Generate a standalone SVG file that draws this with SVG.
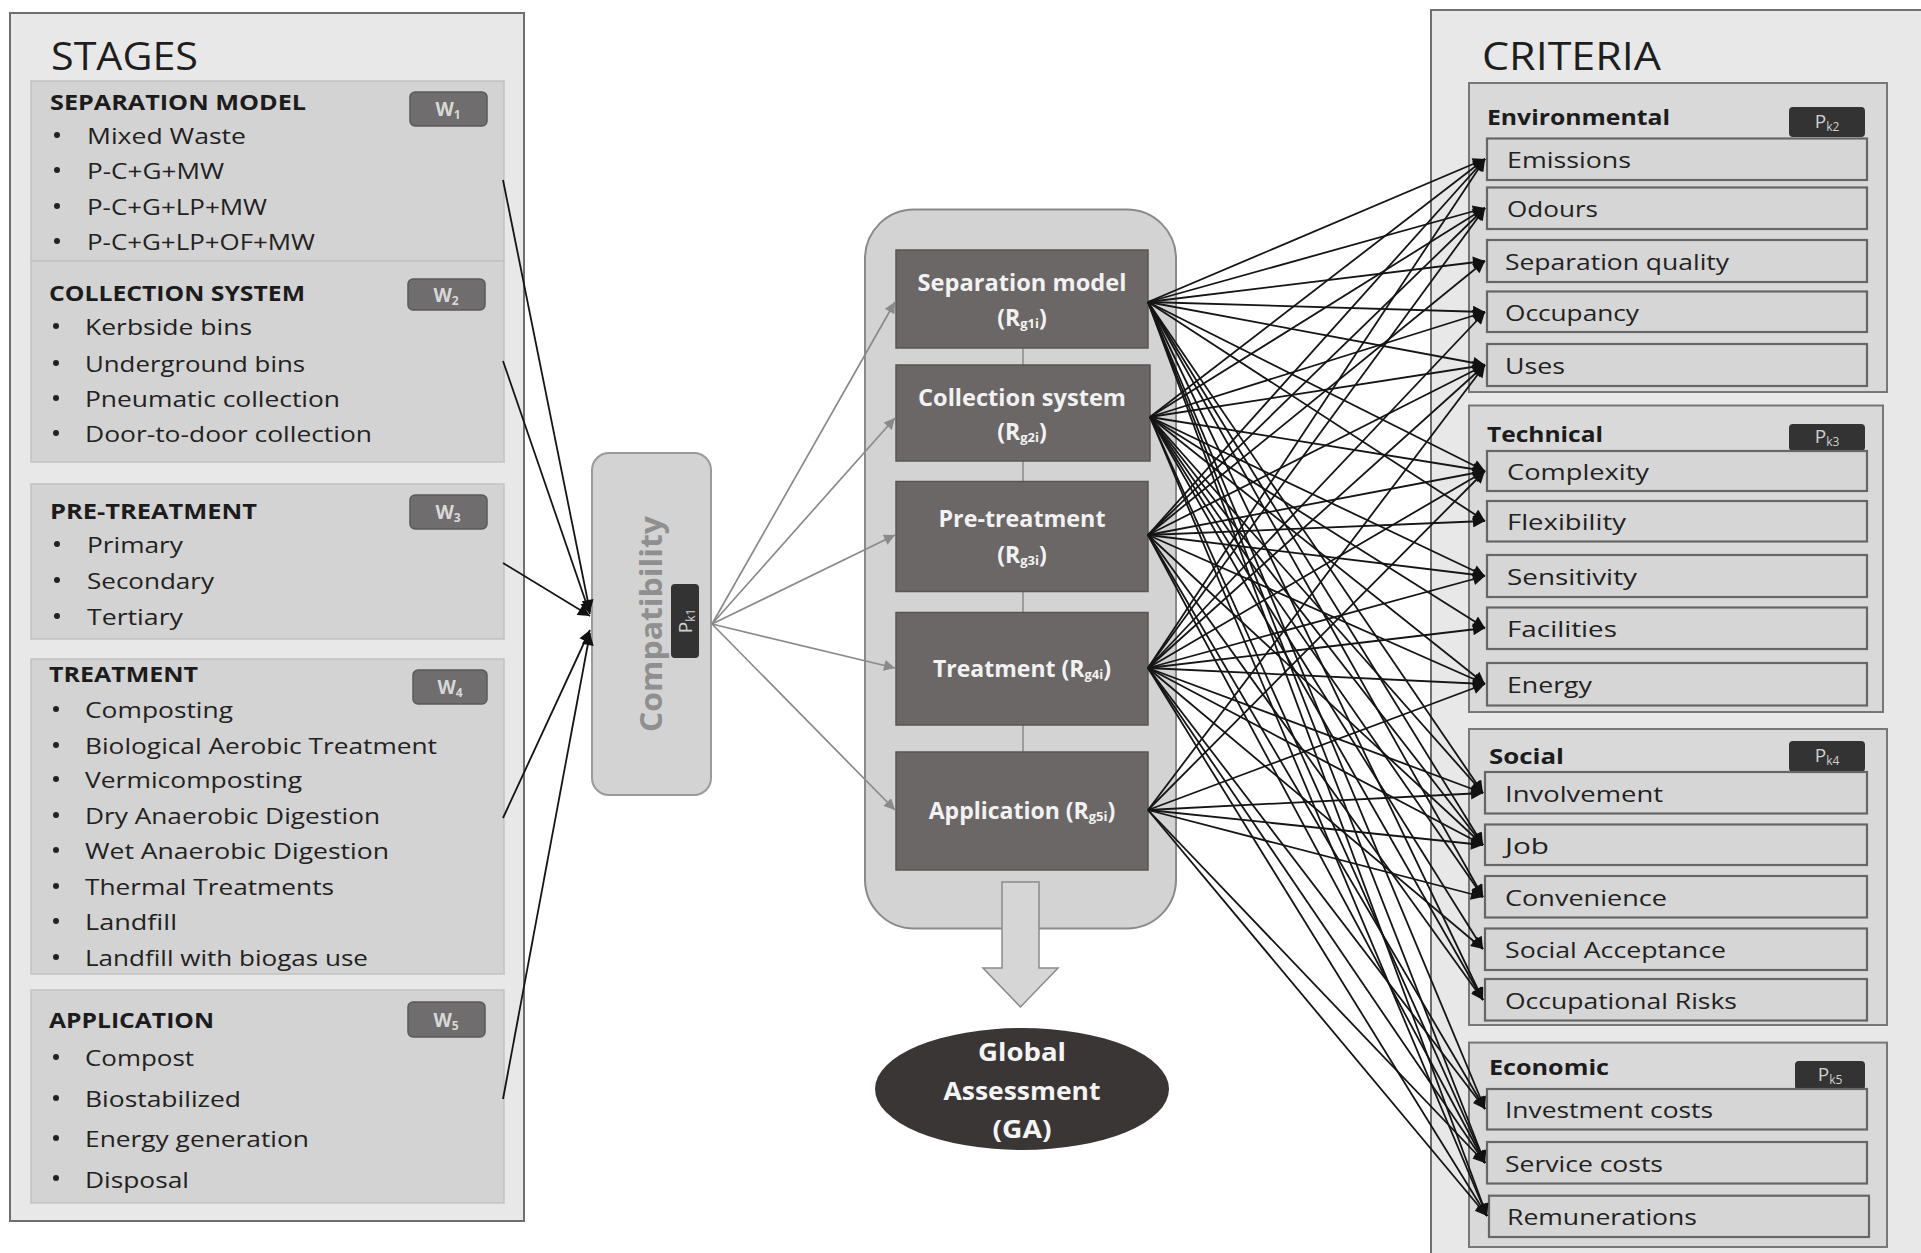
<svg xmlns="http://www.w3.org/2000/svg" width="1921" height="1253" viewBox="0 0 1921 1253">
<style>
text{font-family:"Open Sans","Liberation Sans",sans-serif}
.panel{fill:#e8e8e8;stroke:#6f6f6f;stroke-width:2}
.sub{fill:#d3d3d3;stroke:#c2c2c2;stroke-width:1.5}
.title{font-size:38px;fill:#1e1e1e}
.hdr{font-size:22px;font-weight:bold;fill:#1c1c1c}
.item{font-size:22px;fill:#222}
.bul{fill:#222}
.wb{fill:#6f6d6d;stroke:#5a5a5a;stroke-width:1.5}
.wt{font-size:19px;fill:#d8d8d8;font-weight:bold}
.grp{fill:#d9d9d9;stroke:#777;stroke-width:2}
.crit{fill:#d6d6d6;stroke:#666;stroke-width:2.2}
.pb{fill:#333}
.pt{font-size:19px;fill:#d0d0d0}
.dark{fill:#6b6767;stroke:#5a5656;stroke-width:1.5}
.mt{font-size:23px;font-weight:bold;fill:#f2f2f2}
.gt{font-size:25px;font-weight:bold;fill:#f4f4f4}
.blk{stroke:#151515;stroke-width:1.8;fill:none}
.gry{stroke:#8a8a8a;stroke-width:1.7;fill:none}
</style>
<defs>
<marker id="ah" viewBox="0 0 10 10" refX="10" refY="5" markerWidth="15" markerHeight="12" markerUnits="userSpaceOnUse" orient="auto"><path d="M0,0 L10,5 L0,10 z" fill="#111"/></marker>
<marker id="ag" viewBox="0 0 10 10" refX="10" refY="5" markerWidth="14" markerHeight="11" markerUnits="userSpaceOnUse" orient="auto"><path d="M0,0 L10,5 L0,10 z" fill="#8a8a8a"/></marker>
</defs>
<rect width="1921" height="1253" fill="#ffffff"/>

<!-- LEFT PANEL -->
<g id="stages">
<rect class="panel" x="10" y="13" width="514" height="1208"/>
<text class="title" x="51" y="55" dominant-baseline="central" textLength="147" lengthAdjust="spacingAndGlyphs">STAGES</text>
</g>

<g id="stage-separation">
<rect class="sub" x="31" y="81" width="473" height="180"/>
<text class="hdr" x="50" y="100.5" dominant-baseline="central" textLength="256" lengthAdjust="spacingAndGlyphs">SEPARATION MODEL</text>
<rect class="wb" x="410" y="92" width="77" height="34" rx="5"/>
<text class="wt" x="448" y="109" dominant-baseline="central" text-anchor="middle">W<tspan font-size="12" dy="5">1</tspan></text>
<circle class="bul" cx="57" cy="135" r="3"/><text class="item" x="87" y="134.8" dominant-baseline="central" textLength="159" lengthAdjust="spacingAndGlyphs">Mixed Waste</text>
<circle class="bul" cx="57" cy="170" r="3"/><text class="item" x="87" y="170.3" dominant-baseline="central" textLength="137" lengthAdjust="spacingAndGlyphs">P-C+G+MW</text>
<circle class="bul" cx="57" cy="206" r="3"/><text class="item" x="87" y="205.8" dominant-baseline="central" textLength="180" lengthAdjust="spacingAndGlyphs">P-C+G+LP+MW</text>
<circle class="bul" cx="57" cy="241" r="3"/><text class="item" x="87" y="241.3" dominant-baseline="central" textLength="228" lengthAdjust="spacingAndGlyphs">P-C+G+LP+OF+MW</text>
</g>

<g id="stage-collection">
<rect class="sub" x="31" y="261" width="473" height="201"/>
<text class="hdr" x="49" y="291.6" dominant-baseline="central" textLength="256" lengthAdjust="spacingAndGlyphs">COLLECTION SYSTEM</text>
<rect class="wb" x="408" y="279" width="77" height="31" rx="5"/>
<text class="wt" x="446" y="294.5" dominant-baseline="central" text-anchor="middle">W<tspan font-size="12" dy="5">2</tspan></text>
<circle class="bul" cx="56" cy="326" r="3"/><text class="item" x="85" y="326" dominant-baseline="central" textLength="167" lengthAdjust="spacingAndGlyphs">Kerbside bins</text>
<circle class="bul" cx="56" cy="363" r="3"/><text class="item" x="85" y="362.6" dominant-baseline="central" textLength="220" lengthAdjust="spacingAndGlyphs">Underground bins</text>
<circle class="bul" cx="56" cy="398" r="3"/><text class="item" x="85" y="398" dominant-baseline="central" textLength="255" lengthAdjust="spacingAndGlyphs">Pneumatic collection</text>
<circle class="bul" cx="56" cy="433" r="3"/><text class="item" x="85" y="432.5" dominant-baseline="central" textLength="287" lengthAdjust="spacingAndGlyphs">Door-to-door collection</text>
</g>

<g id="stage-pretreatment">
<rect class="sub" x="31" y="484" width="473" height="155"/>
<text class="hdr" x="50" y="509.6" dominant-baseline="central" textLength="207" lengthAdjust="spacingAndGlyphs">PRE-TREATMENT</text>
<rect class="wb" x="410" y="495" width="77" height="34" rx="5"/>
<text class="wt" x="448" y="512" dominant-baseline="central" text-anchor="middle">W<tspan font-size="12" dy="5">3</tspan></text>
<circle class="bul" cx="57" cy="544" r="3"/><text class="item" x="87" y="544" dominant-baseline="central" textLength="96" lengthAdjust="spacingAndGlyphs">Primary</text>
<circle class="bul" cx="57" cy="580" r="3"/><text class="item" x="87" y="579.5" dominant-baseline="central" textLength="127" lengthAdjust="spacingAndGlyphs">Secondary</text>
<circle class="bul" cx="57" cy="616" r="3"/><text class="item" x="87" y="616" dominant-baseline="central" textLength="96" lengthAdjust="spacingAndGlyphs">Tertiary</text>
</g>

<g id="stage-treatment">
<rect class="sub" x="31" y="659" width="473" height="315"/>
<text class="hdr" x="49" y="672.6" dominant-baseline="central" textLength="149" lengthAdjust="spacingAndGlyphs">TREATMENT</text>
<rect class="wb" x="413" y="670" width="74" height="34" rx="5"/>
<text class="wt" x="450" y="687" dominant-baseline="central" text-anchor="middle">W<tspan font-size="12" dy="5">4</tspan></text>
<circle class="bul" cx="56" cy="709" r="3"/><text class="item" x="85" y="709" dominant-baseline="central" textLength="148" lengthAdjust="spacingAndGlyphs">Composting</text>
<circle class="bul" cx="56" cy="745" r="3"/><text class="item" x="85" y="745" dominant-baseline="central" textLength="352" lengthAdjust="spacingAndGlyphs">Biological Aerobic Treatment</text>
<circle class="bul" cx="56" cy="779" r="3"/><text class="item" x="85" y="779" dominant-baseline="central" textLength="217" lengthAdjust="spacingAndGlyphs">Vermicomposting</text>
<circle class="bul" cx="56" cy="815" r="3"/><text class="item" x="85" y="815" dominant-baseline="central" textLength="295" lengthAdjust="spacingAndGlyphs">Dry Anaerobic Digestion</text>
<circle class="bul" cx="56" cy="850" r="3"/><text class="item" x="85" y="850" dominant-baseline="central" textLength="304" lengthAdjust="spacingAndGlyphs">Wet Anaerobic Digestion</text>
<circle class="bul" cx="56" cy="886" r="3"/><text class="item" x="85" y="886" dominant-baseline="central" textLength="249" lengthAdjust="spacingAndGlyphs">Thermal Treatments</text>
<circle class="bul" cx="56" cy="921" r="3"/><text class="item" x="85" y="921" dominant-baseline="central" textLength="92" lengthAdjust="spacingAndGlyphs">Landfill</text>
<circle class="bul" cx="56" cy="957" r="3"/><text class="item" x="85" y="957" dominant-baseline="central" textLength="283" lengthAdjust="spacingAndGlyphs">Landfill with biogas use</text>
</g>

<g id="stage-application">
<rect class="sub" x="31" y="990" width="473" height="213"/>
<text class="hdr" x="49" y="1019" dominant-baseline="central" textLength="165" lengthAdjust="spacingAndGlyphs">APPLICATION</text>
<rect class="wb" x="408" y="1002" width="77" height="35" rx="5"/>
<text class="wt" x="446" y="1019.5" dominant-baseline="central" text-anchor="middle">W<tspan font-size="12" dy="5">5</tspan></text>
<circle class="bul" cx="56" cy="1057" r="3"/><text class="item" x="85" y="1057" dominant-baseline="central" textLength="109" lengthAdjust="spacingAndGlyphs">Compost</text>
<circle class="bul" cx="56" cy="1098" r="3"/><text class="item" x="85" y="1098" dominant-baseline="central" textLength="156" lengthAdjust="spacingAndGlyphs">Biostabilized</text>
<circle class="bul" cx="56" cy="1138" r="3"/><text class="item" x="85" y="1138" dominant-baseline="central" textLength="224" lengthAdjust="spacingAndGlyphs">Energy generation</text>
<circle class="bul" cx="56" cy="1178" r="3"/><text class="item" x="85" y="1178.5" dominant-baseline="central" textLength="104" lengthAdjust="spacingAndGlyphs">Disposal</text>
</g>

<!-- COMPATIBILITY -->
<g id="compatibility">
<rect x="592" y="453" width="119" height="342" rx="17" fill="#d3d3d3" stroke="#9a9a9a" stroke-width="2"/>
<text transform="translate(650,624) rotate(-90)" text-anchor="middle" dominant-baseline="central" font-size="30" font-weight="bold" fill="#8f8f8f" textLength="216" lengthAdjust="spacingAndGlyphs">Compatibility</text>
<rect class="pb" x="671" y="584" width="28" height="74" rx="4"/>
<text transform="translate(685,621) rotate(-90)" class="pt" text-anchor="middle" dominant-baseline="central">P<tspan font-size="12" dy="5">k1</tspan></text>
</g>

<!-- MIDDLE -->
<g id="ranking-container">
<rect x="865" y="209.5" width="311" height="719" rx="49" fill="#d3d3d3" stroke="#8a8a8a" stroke-width="2"/>
<line x1="1023" y1="348" x2="1023" y2="752" stroke="#8a8a8a" stroke-width="1.5"/>
</g>
<g id="mid-separation">
<rect class="dark" x="896" y="250" width="252" height="98"/>
<text class="mt" x="1022" y="282" text-anchor="middle" dominant-baseline="central" textLength="209" lengthAdjust="spacingAndGlyphs">Separation model</text>
<text class="mt" x="1022" y="317" text-anchor="middle" dominant-baseline="central">(R<tspan font-size="13" dy="6">g1i</tspan><tspan dy="-6">)</tspan></text>
</g>
<g id="mid-collection">
<rect class="dark" x="896" y="365" width="254" height="96"/>
<text class="mt" x="1022" y="397" text-anchor="middle" dominant-baseline="central" textLength="208" lengthAdjust="spacingAndGlyphs">Collection system</text>
<text class="mt" x="1022" y="431" text-anchor="middle" dominant-baseline="central">(R<tspan font-size="13" dy="6">g2i</tspan><tspan dy="-6">)</tspan></text>
</g>
<g id="mid-pretreatment">
<rect class="dark" x="896" y="481.5" width="252" height="110"/>
<text class="mt" x="1022" y="518" text-anchor="middle" dominant-baseline="central" textLength="167" lengthAdjust="spacingAndGlyphs">Pre-treatment</text>
<text class="mt" x="1022" y="554" text-anchor="middle" dominant-baseline="central">(R<tspan font-size="13" dy="6">g3i</tspan><tspan dy="-6">)</tspan></text>
</g>
<g id="mid-treatment">
<rect class="dark" x="896" y="612.5" width="252" height="112.5"/>
<text class="mt" x="1022" y="668" text-anchor="middle" dominant-baseline="central">Treatment (R<tspan font-size="13" dy="6">g4i</tspan><tspan dy="-6">)</tspan></text>
</g>
<g id="mid-application">
<rect class="dark" x="896" y="752" width="252" height="118"/>
<text class="mt" x="1022" y="810" text-anchor="middle" dominant-baseline="central">Application (R<tspan font-size="13" dy="6">g5i</tspan><tspan dy="-6">)</tspan></text>
</g>
<g id="big-arrow">
<polygon points="1002,882 1039,882 1039,968 1058,968 1020.5,1007 983,968 1002,968" fill="#d6d6d6" stroke="#8a8a8a" stroke-width="1.5"/>
</g>
<g id="global-assessment">
<ellipse cx="1022" cy="1089" rx="147" ry="61" fill="#3a3636"/>
<text class="gt" x="1022" y="1051" text-anchor="middle" dominant-baseline="central" textLength="88" lengthAdjust="spacingAndGlyphs">Global</text>
<text class="gt" x="1022" y="1090" text-anchor="middle" dominant-baseline="central" textLength="157" lengthAdjust="spacingAndGlyphs">Assessment</text>
<text class="gt" x="1022" y="1128" text-anchor="middle" dominant-baseline="central" textLength="59" lengthAdjust="spacingAndGlyphs">(GA)</text>
</g>

<!-- RIGHT PANEL -->
<g id="criteria">
<rect class="panel" x="1431" y="10" width="520" height="1260" fill="#ebebeb"/>
<text class="title" x="1482" y="55" dominant-baseline="central" textLength="179" lengthAdjust="spacingAndGlyphs">CRITERIA</text>
</g>

<g id="crit-environmental">
<rect class="grp" x="1469" y="83" width="418" height="309"/>
<text class="hdr" x="1487" y="116" dominant-baseline="central" textLength="183" lengthAdjust="spacingAndGlyphs">Environmental</text>
<rect class="pb" x="1789" y="107" width="76" height="30" rx="4"/>
<text class="pt" x="1827" y="121" text-anchor="middle" dominant-baseline="central">P<tspan font-size="12" dy="5">k2</tspan></text>
<rect class="crit" x="1487" y="138.5" width="380" height="41.5"/><text class="item" x="1507" y="159" dominant-baseline="central" textLength="124" lengthAdjust="spacingAndGlyphs">Emissions</text>
<rect class="crit" x="1487" y="187.5" width="380" height="41.5"/><text class="item" x="1507" y="208" dominant-baseline="central" textLength="91" lengthAdjust="spacingAndGlyphs">Odours</text>
<rect class="crit" x="1487" y="240" width="380" height="42"/><text class="item" x="1505" y="261" dominant-baseline="central" textLength="224" lengthAdjust="spacingAndGlyphs">Separation quality</text>
<rect class="crit" x="1487" y="291.5" width="380" height="40.5"/><text class="item" x="1505" y="312" dominant-baseline="central" textLength="134" lengthAdjust="spacingAndGlyphs">Occupancy</text>
<rect class="crit" x="1487" y="344" width="380" height="42"/><text class="item" x="1505" y="365" dominant-baseline="central" textLength="60" lengthAdjust="spacingAndGlyphs">Uses</text>
</g>

<g id="crit-technical">
<rect class="grp" x="1469" y="405.5" width="414" height="306.5"/>
<text class="hdr" x="1487" y="432.5" dominant-baseline="central" textLength="116" lengthAdjust="spacingAndGlyphs">Technical</text>
<rect class="pb" x="1789" y="424" width="76" height="27" rx="4"/>
<text class="pt" x="1827" y="436" text-anchor="middle" dominant-baseline="central">P<tspan font-size="12" dy="5">k3</tspan></text>
<rect class="crit" x="1487" y="451" width="380" height="40"/><text class="item" x="1507" y="471" dominant-baseline="central" textLength="142" lengthAdjust="spacingAndGlyphs">Complexity</text>
<rect class="crit" x="1487" y="501" width="380" height="40.5"/><text class="item" x="1507" y="521" dominant-baseline="central" textLength="119" lengthAdjust="spacingAndGlyphs">Flexibility</text>
<rect class="crit" x="1487" y="555" width="380" height="42"/><text class="item" x="1507" y="576" dominant-baseline="central" textLength="130" lengthAdjust="spacingAndGlyphs">Sensitivity</text>
<rect class="crit" x="1487" y="607.5" width="380" height="41.5"/><text class="item" x="1507" y="628" dominant-baseline="central" textLength="110" lengthAdjust="spacingAndGlyphs">Facilities</text>
<rect class="crit" x="1487" y="663" width="380" height="42.5"/><text class="item" x="1507" y="684" dominant-baseline="central" textLength="85" lengthAdjust="spacingAndGlyphs">Energy</text>
</g>

<g id="crit-social">
<rect class="grp" x="1469" y="729" width="418" height="296"/>
<text class="hdr" x="1489" y="754.6" dominant-baseline="central" textLength="75" lengthAdjust="spacingAndGlyphs">Social</text>
<rect class="pb" x="1789" y="741" width="76" height="31" rx="4"/>
<text class="pt" x="1827" y="755" text-anchor="middle" dominant-baseline="central">P<tspan font-size="12" dy="5">k4</tspan></text>
<rect class="crit" x="1485" y="772" width="382" height="41.5"/><text class="item" x="1505" y="793" dominant-baseline="central" textLength="158" lengthAdjust="spacingAndGlyphs">Involvement</text>
<rect class="crit" x="1485" y="824.5" width="382" height="40.5"/><text class="item" x="1505" y="845" dominant-baseline="central" textLength="44" lengthAdjust="spacingAndGlyphs">Job</text>
<rect class="crit" x="1485" y="876" width="382" height="41.5"/><text class="item" x="1505" y="897" dominant-baseline="central" textLength="162" lengthAdjust="spacingAndGlyphs">Convenience</text>
<rect class="crit" x="1485" y="928.5" width="382" height="41.5"/><text class="item" x="1505" y="949" dominant-baseline="central" textLength="221" lengthAdjust="spacingAndGlyphs">Social Acceptance</text>
<rect class="crit" x="1485" y="979" width="382" height="41.5"/><text class="item" x="1505" y="1000" dominant-baseline="central" textLength="232" lengthAdjust="spacingAndGlyphs">Occupational Risks</text>
</g>

<g id="crit-economic">
<rect class="grp" x="1469" y="1042.6" width="418" height="204.4"/>
<text class="hdr" x="1489" y="1066" dominant-baseline="central" textLength="120" lengthAdjust="spacingAndGlyphs">Economic</text>
<rect class="pb" x="1795" y="1061" width="70" height="29" rx="4"/>
<text class="pt" x="1830" y="1074" text-anchor="middle" dominant-baseline="central">P<tspan font-size="12" dy="5">k5</tspan></text>
<rect class="crit" x="1487" y="1089" width="380" height="40.5"/><text class="item" x="1505" y="1109" dominant-baseline="central" textLength="208" lengthAdjust="spacingAndGlyphs">Investment costs</text>
<rect class="crit" x="1487" y="1142" width="380" height="41.5"/><text class="item" x="1505" y="1163" dominant-baseline="central" textLength="158" lengthAdjust="spacingAndGlyphs">Service costs</text>
<rect class="crit" x="1489" y="1195.7" width="380" height="41.3"/><text class="item" x="1507" y="1216" dominant-baseline="central" textLength="190" lengthAdjust="spacingAndGlyphs">Remunerations</text>
</g>

<!-- CONNECTORS -->
<g id="connectors">
<g class="blk" marker-end="url(#ah)">
<line x1="503" y1="180" x2="590" y2="612"/>
<line x1="503" y1="361" x2="590" y2="614"/>
<line x1="503" y1="563" x2="590" y2="616"/>
<line x1="503" y1="818" x2="590" y2="630"/>
<line x1="503" y1="1099" x2="590" y2="633"/>
</g>
<g class="gry" marker-end="url(#ag)">
<line x1="712" y1="624" x2="895" y2="302"/>
<line x1="712" y1="624" x2="895" y2="418"/>
<line x1="712" y1="624" x2="895" y2="535"/>
<line x1="712" y1="624" x2="895" y2="668"/>
<line x1="712" y1="624" x2="895" y2="810"/>
</g>
<g class="blk" marker-end="url(#ah)">
<!-- Separation model -->
<line x1="1148" y1="302" x2="1485" y2="159"/>
<line x1="1148" y1="302" x2="1485" y2="208"/>
<line x1="1148" y1="302" x2="1485" y2="261"/>
<line x1="1148" y1="302" x2="1485" y2="312"/>
<line x1="1148" y1="302" x2="1485" y2="365"/>
<line x1="1148" y1="302" x2="1485" y2="471"/>
<line x1="1148" y1="302" x2="1485" y2="521"/>
<line x1="1148" y1="302" x2="1483" y2="793"/>
<line x1="1148" y1="302" x2="1483" y2="845"/>
<line x1="1148" y1="302" x2="1483" y2="897"/>
<line x1="1148" y1="302" x2="1483" y2="1000"/>
<line x1="1148" y1="302" x2="1485" y2="1109"/>
<line x1="1148" y1="302" x2="1485" y2="1163"/>
<line x1="1148" y1="302" x2="1487" y2="1216"/>
<!-- Collection system -->
<line x1="1150" y1="417" x2="1485" y2="159"/>
<line x1="1150" y1="417" x2="1485" y2="208"/>
<line x1="1150" y1="417" x2="1485" y2="312"/>
<line x1="1150" y1="417" x2="1485" y2="365"/>
<line x1="1150" y1="417" x2="1485" y2="471"/>
<line x1="1150" y1="417" x2="1485" y2="576"/>
<line x1="1150" y1="417" x2="1485" y2="628"/>
<line x1="1150" y1="417" x2="1485" y2="684"/>
<line x1="1150" y1="417" x2="1483" y2="793"/>
<line x1="1150" y1="417" x2="1483" y2="845"/>
<line x1="1150" y1="417" x2="1483" y2="897"/>
<line x1="1150" y1="417" x2="1483" y2="949"/>
<line x1="1150" y1="417" x2="1483" y2="1000"/>
<line x1="1150" y1="417" x2="1485" y2="1163"/>
<line x1="1150" y1="417" x2="1487" y2="1216"/>
<!-- Pre-treatment -->
<line x1="1148" y1="535" x2="1485" y2="159"/>
<line x1="1148" y1="535" x2="1485" y2="208"/>
<line x1="1148" y1="535" x2="1485" y2="261"/>
<line x1="1148" y1="535" x2="1485" y2="365"/>
<line x1="1148" y1="535" x2="1485" y2="471"/>
<line x1="1148" y1="535" x2="1485" y2="521"/>
<line x1="1148" y1="535" x2="1485" y2="576"/>
<line x1="1148" y1="535" x2="1485" y2="684"/>
<line x1="1148" y1="535" x2="1483" y2="845"/>
<line x1="1148" y1="535" x2="1483" y2="1000"/>
<line x1="1148" y1="535" x2="1485" y2="1109"/>
<line x1="1148" y1="535" x2="1485" y2="1163"/>
<!-- Treatment -->
<line x1="1148" y1="668" x2="1485" y2="159"/>
<line x1="1148" y1="668" x2="1485" y2="208"/>
<line x1="1148" y1="668" x2="1485" y2="312"/>
<line x1="1148" y1="668" x2="1485" y2="365"/>
<line x1="1148" y1="668" x2="1485" y2="471"/>
<line x1="1148" y1="668" x2="1485" y2="576"/>
<line x1="1148" y1="668" x2="1485" y2="628"/>
<line x1="1148" y1="668" x2="1485" y2="684"/>
<line x1="1148" y1="668" x2="1483" y2="793"/>
<line x1="1148" y1="668" x2="1483" y2="845"/>
<line x1="1148" y1="668" x2="1483" y2="949"/>
<line x1="1148" y1="668" x2="1485" y2="1109"/>
<line x1="1148" y1="668" x2="1485" y2="1163"/>
<line x1="1148" y1="668" x2="1487" y2="1216"/>
<!-- Application -->
<line x1="1148" y1="810" x2="1485" y2="365"/>
<line x1="1148" y1="810" x2="1485" y2="471"/>
<line x1="1148" y1="810" x2="1485" y2="684"/>
<line x1="1148" y1="810" x2="1483" y2="793"/>
<line x1="1148" y1="810" x2="1483" y2="845"/>
<line x1="1148" y1="810" x2="1483" y2="897"/>
<line x1="1148" y1="810" x2="1485" y2="1163"/>
<line x1="1148" y1="810" x2="1487" y2="1216"/>
</g>
</g>
</svg>
